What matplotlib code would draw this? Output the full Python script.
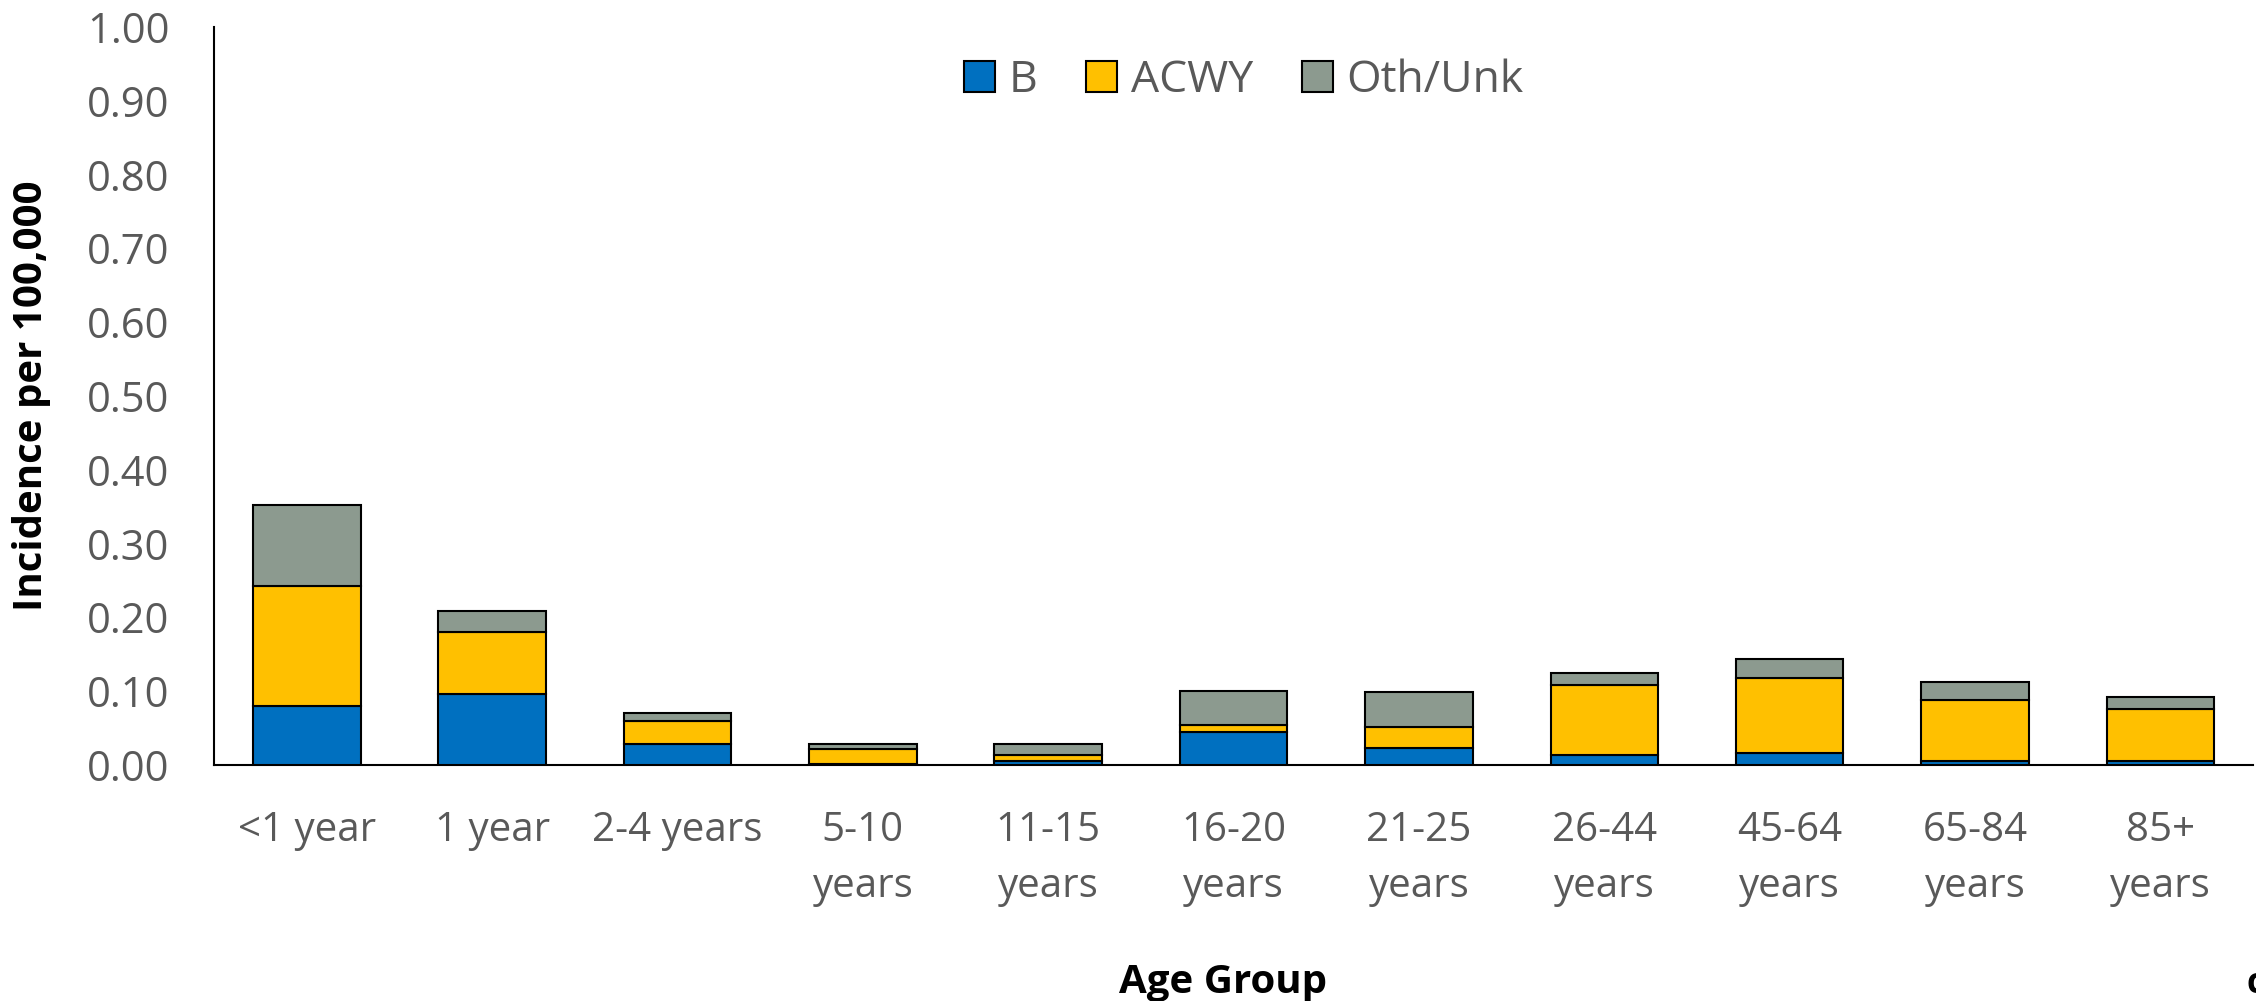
import numpy as np
import matplotlib
matplotlib.use("Agg")
import matplotlib.pyplot as plt

plt.rcParams['font.family'] = ['Open Sans', 'DejaVu Sans']

age_groups = ['<1 year', '1 year', '2-4 years', '5-10\nyears', '11-15\nyears',
              '16-20\nyears', '21-25\nyears', '26-44\nyears', '45-64\nyears',
              '65-84\nyears', '85+\nyears']
b_vals = [0.080, 0.096, 0.029, 0.001, 0.006, 0.045, 0.023, 0.013, 0.016, 0.006, 0.006]
acwy_vals = [0.163, 0.084, 0.031, 0.021, 0.007, 0.009, 0.028, 0.095, 0.102, 0.082, 0.070]
oth_vals = [0.109, 0.029, 0.010, 0.007, 0.015, 0.046, 0.048, 0.016, 0.025, 0.024, 0.016]

series = [('B', b_vals, '#0070C0'),
          ('ACWY', acwy_vals, '#FFC000'),
          ('Oth/Unk', oth_vals, '#8C9A8F')]

TEXT_GREY = '#595959'

fig = plt.figure(figsize=(22.56, 10.01), dpi=100)
ax = fig.add_axes([0.0949, 0.2358, 0.9038, 0.7372])

x = np.arange(len(age_groups))
bottom = np.zeros(len(age_groups))
for name, vals, col in series:
    ax.bar(x, vals, width=0.58, bottom=bottom, color=col, edgecolor='black',
           linewidth=1.5, label=name, zorder=3)
    bottom += np.array(vals)

ax.set_xlim(-0.5, len(age_groups) - 0.5)
ax.set_ylim(0, 1.0)
ax.set_yticks(np.arange(0, 1.01, 0.1))
ax.set_yticklabels(['%.2f' % v for v in np.arange(0, 1.01, 0.1)])
ax.set_xticks(x)
ax.set_xticklabels(age_groups, linespacing=1.5)

ax.tick_params(axis='y', length=0, pad=32, labelsize=30, labelcolor=TEXT_GREY)
ax.tick_params(axis='x', length=0, pad=33, labelsize=29, labelcolor=TEXT_GREY)

for s in ['top', 'right']:
    ax.spines[s].set_visible(False)
for s in ['left', 'bottom']:
    ax.spines[s].set_color('black')
    ax.spines[s].set_linewidth(1.5)

ax.set_ylabel('Incidence per 100,000', fontsize=29, fontweight='bold')
ax.yaxis.set_label_coords(-0.080, 0.5)
fig.text(0.542, 0.018, 'Age Group', fontsize=29, fontweight='bold', ha='center', va='center')
fig.text(0.996, 0.017, 'c', fontsize=25, fontweight='bold', ha='left', va='center')

leg = ax.legend(loc='upper center', bbox_to_anchor=(0.505, 0.993), ncol=3, frameon=False,
                fontsize=32, handlelength=0.7, handleheight=0.7, handletextpad=0.3,
                columnspacing=1.1, borderaxespad=0.2)
for t in leg.get_texts():
    t.set_color(TEXT_GREY)

fig.savefig('out.png', dpi=100)
